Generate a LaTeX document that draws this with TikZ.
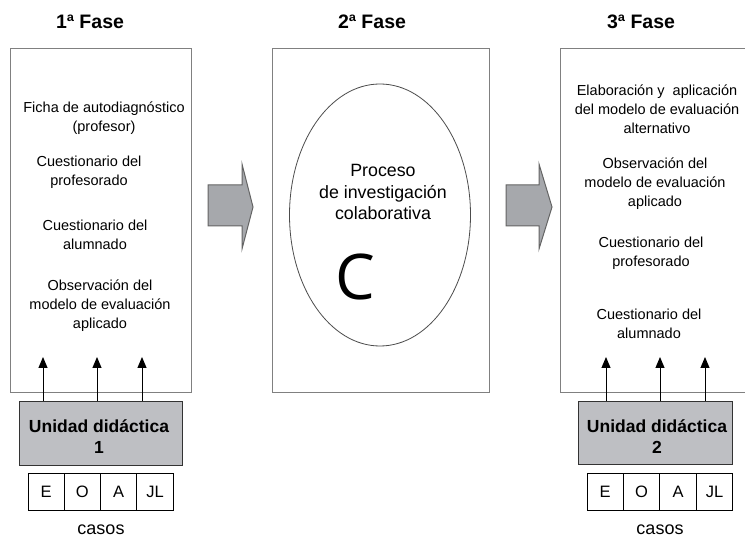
\documentclass[tikz,border=0pt]{standalone}
\usepackage{fontspec}
\setmainfont{Liberation Sans}
\newfontfamily\bigcfont{Open Sans}
\usetikzlibrary{arrows.meta,shapes.geometric}
\definecolor{frame}{RGB}{128,128,128}
\definecolor{unitfill}{RGB}{190,191,195}
\definecolor{arrowfill}{RGB}{166,168,172}
\definecolor{arrowline}{RGB}{100,100,100}
\begin{document}
\begin{tikzpicture}[x=1pt,y=-1pt,
  phasebox/.style={draw=frame,line width=1.2pt,fill=white,anchor=north west,inner sep=0pt},
  txt/.style={align=center,font=\fontsize{14.5}{19}\selectfont,inner sep=0pt},
  bigtxt/.style={align=center,font=\fontsize{17.8}{21.5}\selectfont,inner sep=0pt},
  title/.style={font=\fontsize{19.5}{23}\selectfont\bfseries,inner sep=0pt},
  unit/.style={draw=black!80,line width=1pt,fill=unitfill,anchor=north west,inner sep=0pt},
  unittxt/.style={align=center,font=\fontsize{17.5}{21}\selectfont\bfseries,inner sep=0pt},
  cell/.style={draw=black,line width=0.9pt,minimum width=36.3pt,minimum height=37pt,inner sep=0pt,font=\fontsize{16.5}{18}\selectfont},
  up/.style={-{Triangle[length=11pt,width=9pt]},line width=1pt},
  bigarrow/.style={draw=arrowline,fill=arrowfill,line width=1pt,line join=miter}]
\useasboundingbox (0,0) rectangle (745,537);

% titles
\node[title] (t1) at (90,22) {1ª Fase};
\node[title] (t2) at (372,22) {2ª Fase};
\node[title] (t3) at (641,22) {3ª Fase};

% phase boxes
\node[phasebox,minimum width=181pt,minimum height=344pt] (f1) at (10,48) {};
\node[phasebox,minimum width=217pt,minimum height=344pt] (f2) at (272,48) {};
\node[phasebox,minimum width=200pt,minimum height=344pt] (f3) at (560,48) {};

% block arrows
\draw[bigarrow] (208,185) -- (242,185) -- (242,164) -- (253,207) -- (242,249) -- (242,226) -- (208,226) -- cycle;
\draw[bigarrow] (506,185) -- (539,185) -- (539,164) -- (552,207) -- (539,249) -- (539,226) -- (506,226) -- cycle;

% phase 1 texts
\node[txt] (p1a) at (104,118) {Ficha de autodiagnóstico\\(profesor)};
\node[txt] (p1b) at (89,172) {Cuestionario del\\profesorado};
\node[txt] (p1c) at (95,234.5) {Cuestionario del\\alumnado};
\node[txt] (p1d) at (100,305.5) {Observación del\\modelo de evaluación\\aplicado};

% phase 2
\node[draw=black!70,line width=0.8pt,ellipse,minimum width=181pt,minimum height=262pt,inner sep=0pt] (el) at (380,215) {};
\node[bigtxt] (proc) at (383,192) {Proceso\\de investigación\\colaborativa};
\node[font=\bigcfont\fontsize{63}{63}\selectfont,inner sep=0pt] (cc) at (355,277) {C};

% phase 3 texts
\node[txt] (p3a) at (657,109) {Elaboración y\ \ aplicación\\del modelo de evaluación\\alternativo};
\node[txt] (p3b) at (655,184) {Observación del\\modelo de evaluación\\aplicado};
\node[txt] (p3c) at (651,253) {Cuestionario del\\profesorado};
\node[txt] (p3d) at (649,324) {Cuestionario del\\alumnado};

% unit boxes
\node[unit,minimum width=163pt,minimum height=64pt] (u1) at (19,401) {};
\node[unittxt] (u1t) at (99,437) {Unidad didáctica\\1};
\node[unit,minimum width=154pt,minimum height=63pt] (u2) at (578,401) {};
\node[unittxt] (u2t) at (657,437) {Unidad didáctica\\2};

% arrows into boxes
\coordinate (a11) at (43,357);
\coordinate (a12) at (97,357);
\coordinate (a13) at (142,357);
\coordinate (a21) at (606,357);
\coordinate (a22) at (660,357);
\coordinate (a23) at (705,357);
\foreach \a in {a11,a12,a13} \draw[up] (u1.north -| \a) -- (\a);
\foreach \a in {a21,a22,a23} \draw[up] (u2.north -| \a) -- (\a);

% cases
\node[cell] (c1e) at (46.1,491.5) {E};
\node[cell] (c1o) at (82.4,491.5) {O};
\node[cell] (c1a) at (118.7,491.5) {A};
\node[cell] (c1j) at (155,491.5) {JL};
\node[font=\fontsize{18}{20}\selectfont,inner sep=0pt] (cas1) at (101,529.5) {casos};

\node[cell] (c2e) at (605.2,491.5) {E};
\node[cell] (c2o) at (641.6,491.5) {O};
\node[cell] (c2a) at (678,491.5) {A};
\node[cell] (c2j) at (714.5,491.5) {JL};
\node[font=\fontsize{18}{20}\selectfont,inner sep=0pt] (cas2) at (660,529.5) {casos};
\end{tikzpicture}
\end{document}
